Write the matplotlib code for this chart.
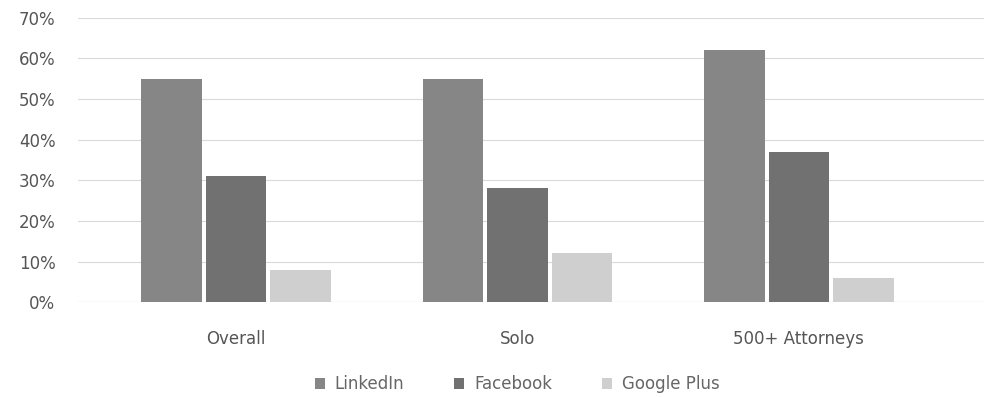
import matplotlib
matplotlib.use("Agg")
import matplotlib.pyplot as plt
import numpy as np
from matplotlib.ticker import PercentFormatter

# survey shares by firm size
groups = ["Overall", "Solo", "500+ Attorneys"]
networks = ["LinkedIn", "Facebook", "Google Plus"]
linkedin = [55, 55, 62]
facebook = [31, 28, 37]
google_plus = [8, 12, 6]

colors = ["#868686", "#717171", "#cfcfcf"]

fig = plt.figure(figsize=(9.96, 3.97), dpi=100)
ax = fig.add_axes([0.078, 0.239, 0.91, 0.716])

x = np.arange(len(groups))
w = 0.215
for i, (vals, name) in enumerate(zip([linkedin, facebook, google_plus], networks)):
    ax.bar(x + (i - 1) * (w + 0.014), vals, w, color=colors[i], label=name, zorder=3)

ax.set_ylim(0, 70)
ax.set_yticks(range(0, 71, 10))
ax.yaxis.set_major_formatter(PercentFormatter(decimals=0))
ax.set_xlim(-0.562, 2.658)
ax.set_xticks(x)
ax.set_xticklabels(groups)
ax.grid(axis="y", color="#dadada", linewidth=0.8, zorder=0)
for s in ax.spines.values():
    s.set_visible(False)
ax.axhline(0, color="#cfcfcf", linewidth=0.8, zorder=2)
ax.tick_params(axis="y", length=0, labelsize=12, colors="#555555", pad=16)
ax.tick_params(axis="x", length=0, labelsize=12, colors="#555555", pad=20)

ax.legend(loc="upper center", bbox_to_anchor=(0.485, -0.205), ncol=3, frameon=False,
          fontsize=12, labelcolor="#666666", handlelength=0.6, handleheight=0.6,
          columnspacing=3.0, handletextpad=0.6)

fig.savefig("out.png", dpi=100)
